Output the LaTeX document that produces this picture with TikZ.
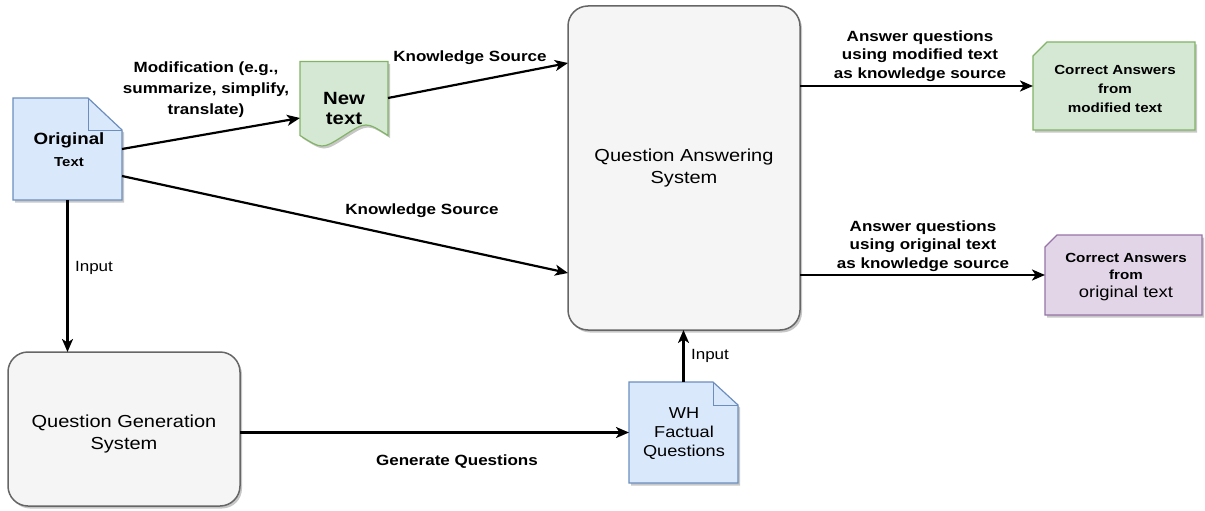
\documentclass[tikz,border=0pt]{standalone}
\usepackage{fontspec}
\setmainfont{Liberation Sans}[FakeStretch=1.15]
\usetikzlibrary{arrows.meta,calc,shadows}
\definecolor{qafill}{HTML}{F5F5F5}
\definecolor{qastroke}{HTML}{666666}
\definecolor{bfill}{HTML}{DAE8FC}
\definecolor{bstroke}{HTML}{6C8EBF}
\definecolor{gfill}{HTML}{D5E8D4}
\definecolor{gstroke}{HTML}{82B366}
\definecolor{pfill}{HTML}{E1D5E7}
\definecolor{pstroke}{HTML}{9673A6}
\begin{document}
\begin{tikzpicture}[x=1pt,y=-1pt,
  holder/.style={draw=none,inner sep=0pt,outer sep=0pt},
  shad/.style={drop shadow={shadow xshift=2pt,shadow yshift=-2.5pt,opacity=0.22,fill=black}},
  sysbox/.style={draw=qastroke,fill=qafill,line width=1.5pt,rounded corners=20pt,inner sep=0pt,outer sep=0pt,shad},
  arr/.style={line width=2.2pt,-{Stealth[length=13pt,width=11pt,inset=3.5pt]}},
  lbl/.style={font=\fontsize{14.8}{19}\selectfont\bfseries,align=center,inner sep=0pt},
  lblr/.style={font=\fontsize{14.8}{19}\selectfont,align=center,inner sep=0pt},
  txt/.style={align=center,inner sep=0pt},
]
\useasboundingbox (0,0) rectangle (1205,511);
\fill[white] (0,0) rectangle (1205,511);

% shape holders
\node[holder,minimum width=109pt,minimum height=102pt] (orig) at (67.5,149) {};
\node[holder,minimum width=88pt,minimum height=83pt] (newt) at (344,103) {};
\node[holder,minimum width=109pt,minimum height=101pt] (wh) at (683.5,432.5) {};
\node[holder,minimum width=162pt,minimum height=88pt] (cam) at (1114,86) {};
\node[holder,minimum width=157pt,minimum height=80pt] (cao) at (1123.5,275) {};

% systems
\node[sysbox,minimum width=232pt,minimum height=324pt,font=\fontsize{17.4}{22}\selectfont,align=center] (qa) at (684,168) {Question Answering\\System};
\node[sysbox,minimum width=232pt,minimum height=154pt] (qg) at (124,429) {};

% Original Text document
\path[draw=bstroke,fill=bfill,line width=1.2pt,shad] (orig.north west) -- ($(orig.north east)+(-34,0)$) -- ($(orig.north east)+(0,32)$) -- (orig.south east) -- (orig.south west) -- cycle;
\draw[bstroke,line width=1pt] ($(orig.north east)+(-34,0)$) -- ($(orig.north east)+(-34,32)$) -- ($(orig.north east)+(0,32)$);
% WH document
\path[draw=bstroke,fill=bfill,line width=1.2pt,shad] (wh.north west) -- ($(wh.north east)+(-25,0)$) -- ($(wh.north east)+(0,23)$) -- (wh.south east) -- (wh.south west) -- cycle;
\draw[bstroke,line width=1pt] ($(wh.north east)+(-25,0)$) -- ($(wh.north east)+(-25,23)$) -- ($(wh.north east)+(0,23)$);
% New text tape
\path[draw=gstroke,fill=gfill,line width=1.2pt,shad] (newt.north west) -- (newt.north east) -- ($(newt.north east)+(0,74)$) .. controls ($(newt.north east)+(-22,60)$) .. ($(newt.north)+(0,74)$) .. controls ($(newt.north west)+(22,88)$) .. ($(newt.north west)+(0,74)$) -- cycle;
% answer cards
\path[draw=gstroke,fill=gfill,line width=1.2pt,shad] ($(cam.north west)+(14,0)$) -- (cam.north east) -- (cam.south east) -- (cam.south west) -- ($(cam.north west)+(0,14)$) -- cycle;
\path[draw=pstroke,fill=pfill,line width=1.2pt,shad] ($(cao.north west)+(12,0)$) -- (cao.north east) -- (cao.south east) -- (cao.south west) -- ($(cao.north west)+(0,12)$) -- cycle;

% texts inside shapes
\node[txt,font=\fontsize{16.3}{20}\selectfont\bfseries] (origt1) at (69,140) {Original};
\node[txt,font=\fontsize{13}{15}\selectfont\bfseries] (origt2) at (69,162) {Text};
\node[txt,font=\fontsize{17.7}{20}\selectfont\bfseries] (newtt) at (344,108) {New\\text};
\node[txt,font=\fontsize{15.8}{19}\selectfont] (wht) at (684,434) {WH\\Factual\\Questions};
\node[txt,font=\fontsize{17.4}{22}\selectfont] (qgt) at (124,434) {Question Generation\\System};
\node[txt,font=\fontsize{13.2}{19}\selectfont\bfseries] (camt) at (1115,89) {Correct Answers\\from\\modified text};
\node[txt,font=\fontsize{13.2}{17.5}\selectfont\bfseries] (caot1) at (1126,266.5) {Correct Answers\\from};
\node[txt,font=\fontsize{16}{18}\selectfont] (caot2) at (1126,293) {original text};

% connectors
\draw[arr] (orig.east) -- ($(newt.west)+(0,15)$);
\draw[arr] ($(newt.east)+(0,-5)$) -- ($(qa.west)+(0,-105)$);
\draw[arr] ($(orig.east)+(0,27)$) -- ($(qa.west)+(0,105)$);
\draw[arr] (orig.south) -- (orig.south |- qg.north);
\draw[arr] (qg.east |- wh.west) -- (wh.west);
\draw[arr] (wh.north) -- (wh.north |- qa.south);
\draw[arr] (qa.east |- cam.west) -- (cam.west);
\draw[arr] (qa.east |- cao.west) -- (cao.west);

% connector labels
\node[lbl,font=\fontsize{14.8}{21}\selectfont\bfseries] (lmod) at (206,90) {Modification (e.g.,\\summarize, simplify,\\translate)};
\node[lbl] (lks1) at (470,58) {Knowledge Source};
\node[lbl] (lks2) at (422,211) {Knowledge Source};
\node[lblr] (lin1) at (94,268) {Input};
\node[lbl] (lgen) at (457,462) {Generate Questions};
\node[lblr] (lin2) at (710,356) {Input};
\node[lbl,font=\fontsize{14.8}{18.5}\selectfont\bfseries] (lans1) at (920,56) {Answer questions\\using modified text\\as knowledge source};
\node[lbl,font=\fontsize{14.8}{18.5}\selectfont\bfseries] (lans2) at (923,246) {Answer questions\\using original text\\as knowledge source};
\end{tikzpicture}
\end{document}
